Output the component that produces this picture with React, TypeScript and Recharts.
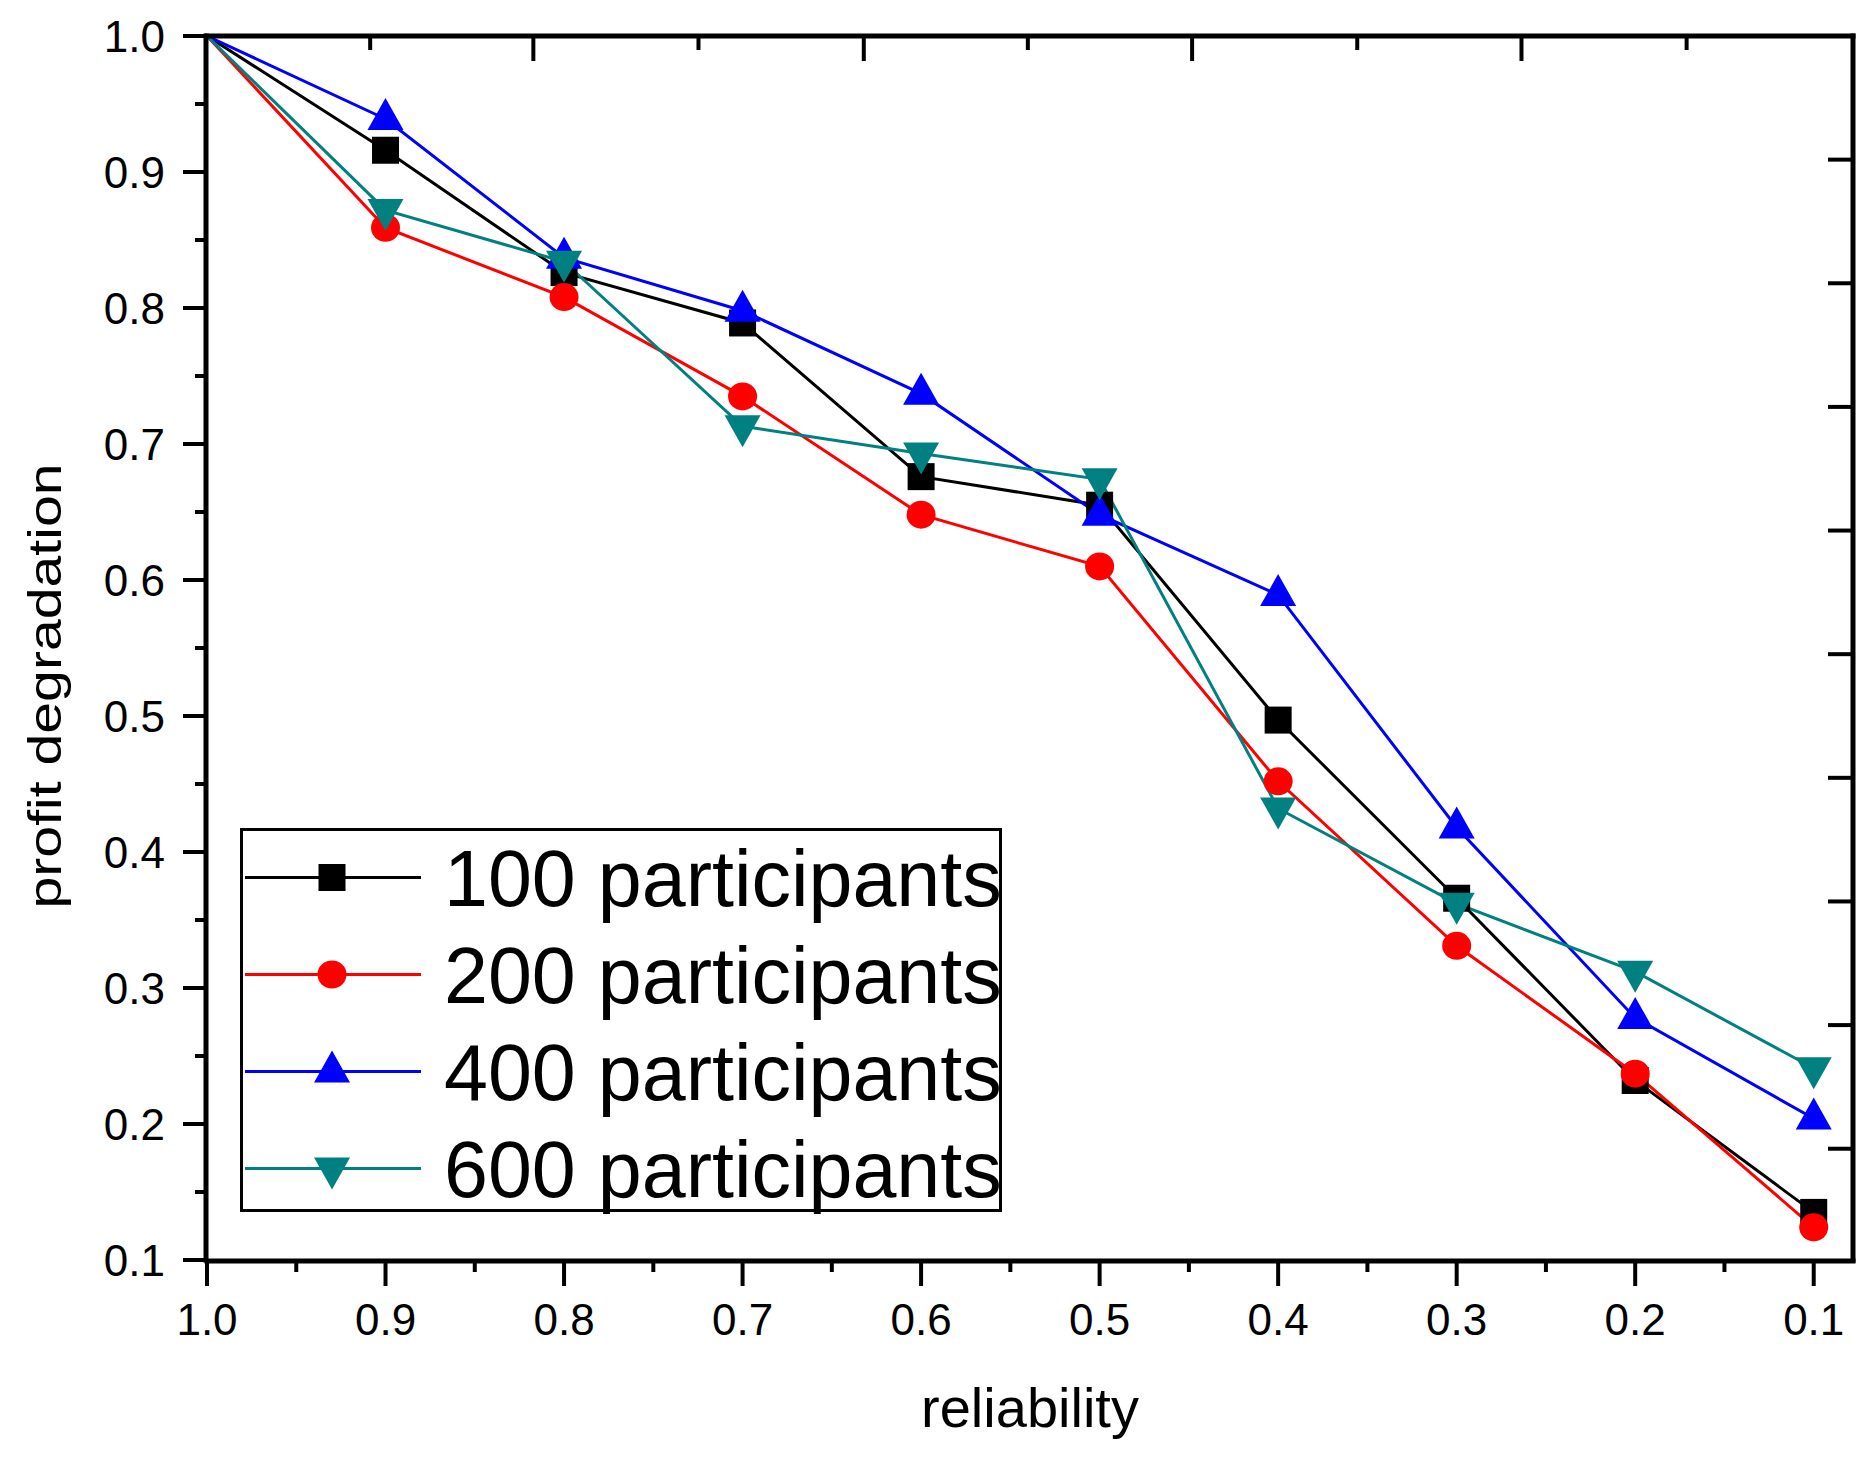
import React from 'react';
import { LineChart, Line, XAxis, YAxis, Legend } from 'recharts';

// ---------- data ----------
const reliability = [1.0, 0.9, 0.8, 0.7, 0.6, 0.5, 0.4, 0.3, 0.2, 0.1];
const p100 = [1.0, 0.916, 0.826, 0.789, 0.676, 0.655, 0.497, 0.366, 0.232, 0.135];
const p200 = [1.0, 0.859, 0.808, 0.735, 0.648, 0.61, 0.452, 0.331, 0.237, 0.124];
const p400 = [1.0, 0.939, 0.837, 0.798, 0.737, 0.648, 0.589, 0.418, 0.278, 0.204];
const p600 = [1.0, 0.872, 0.834, 0.713, 0.693, 0.674, 0.432, 0.362, 0.312, 0.241];

const seriesNames = ['100 participants', '200 participants', '400 participants', '600 participants'];

const xTicks = [1.0, 0.9, 0.8, 0.7, 0.6, 0.5, 0.4, 0.3, 0.2, 0.1];
const xMinorTicks = [0.95, 0.85, 0.75, 0.65, 0.55, 0.45, 0.35, 0.25, 0.15];
const yTicks = [0.1, 0.2, 0.3, 0.4, 0.5, 0.6, 0.7, 0.8, 0.9, 1.0];
const yMinorTicks = [0.15, 0.25, 0.35, 0.45, 0.55, 0.65, 0.75, 0.85, 0.95];
// unlabeled ticks of the top frame (in x-axis units)
const topMinorTicks = [0.9086, 0.7247, 0.5402, 0.3557, 0.1712];
const topMajorTicks = [0.8172, 0.6321, 0.4482, 0.2637];
// unlabeled ticks of the right frame
const rightTicks = [1, 2, 3, 4, 5, 6, 7, 8, 9];

const data = reliability.map((r, i) => ({
  r,
  p100: p100[i],
  p200: p200[i],
  p400: p400[i],
  p600: p600[i],
}));

// ---------- styles ----------
const FONT = '"Liberation Sans", Arial, Helvetica, sans-serif';

type Shape = 'square' | 'circle' | 'up' | 'down';
const SERIES: { key: string; name: string; color: string; shape: Shape }[] = [
  { key: 'p100', name: seriesNames[0], color: '#000000', shape: 'square' },
  { key: 'p200', name: seriesNames[1], color: '#FF0000', shape: 'circle' },
  { key: 'p400', name: seriesNames[2], color: '#0000FF', shape: 'up' },
  { key: 'p600', name: seriesNames[3], color: '#008080', shape: 'down' },
];

function Marker({ shape, cx, cy, color }: { shape: Shape; cx: number; cy: number; color: string }) {
  switch (shape) {
    case 'square':
      return <rect x={cx - 13.5} y={cy - 13.5} width={27} height={27} fill={color} />;
    case 'circle':
      return <ellipse cx={cx} cy={cy} rx={14.5} ry={14} fill={color} />;
    case 'up':
      return <polygon points={`${cx},${cy - 21} ${cx + 18},${cy + 11} ${cx - 18},${cy + 11}`} fill={color} />;
    case 'down':
      return <polygon points={`${cx},${cy + 21} ${cx + 18},${cy - 11} ${cx - 18},${cy - 11}`} fill={color} />;
  }
  return null;
}

const makeDot = (s: { shape: Shape; color: string }) => (props: any) => {
  const { cx, cy, index } = props;
  if (index === 0 || cx == null || cy == null) return <g key={`d-${index}`} />;
  return (
    <g key={`d-${index}`}>
      <Marker shape={s.shape} cx={cx} cy={cy} color={s.color} />
    </g>
  );
};

const EmptyTick = () => <g />;

const renderLegend = (props: any) => {
  const payload = props.payload || [];
  return (
    <div
      style={{
        width: 762,
        height: 384,
        border: '3px solid #000',
        boxSizing: 'border-box',
        background: '#fff',
      }}
    >
      <svg width={756} height={378} style={{ display: 'block', overflow: 'visible' }}>
        {payload.map((entry: any, i: number) => {
          const s = SERIES.find((x) => x.key === entry.dataKey) || SERIES[i];
          const y = 46.5 + i * 97;
          return (
            <g key={s.key}>
              <line x1={2} x2={178} y1={y} y2={y} stroke={s.color} strokeWidth={3} />
              <Marker shape={s.shape} cx={89} cy={y} color={s.color} />
              <text x={201} y={y + 28} fontSize={79} fontFamily={FONT} fill="#000">
                {entry.value}
              </text>
            </g>
          );
        })}
      </svg>
    </div>
  );
};

const XTitle = (props: any) => {
  const vb = props.viewBox || { x: 199, y: 1252, width: 1645, height: 189 };
  return (
    <text
      x={vb.x + vb.width / 2}
      y={vb.y + 166}
      textAnchor="middle"
      fontSize={56}
      fontFamily={FONT}
      fill="#000"
    >
      reliability
    </text>
  );
};

const YTitle = (props: any) => {
  const vb = props.viewBox || { x: 0, y: 30, width: 199, height: 1222 };
  const x = vb.x + 53;
  const y = vb.y + vb.height / 2 + 38;
  return (
    <text
      x={x}
      y={y}
      transform={`rotate(-90, ${x}, ${y})`}
      textAnchor="middle"
      fontSize={47}
      fontFamily={FONT}
      fill="#000"
      textLength={445}
      lengthAdjust="spacingAndGlyphs"
    >
      profit degradation
    </text>
  );
};

const tickFont = { fill: '#000', fontSize: 44, fontFamily: FONT };
const frameLine = { stroke: '#000', strokeWidth: 5, strokeLinecap: 'square' as const };
const tickLineStyle = { stroke: '#000', strokeWidth: 4 };

export default function App() {
  return (
    <div style={{ width: 1856, height: 1441, background: '#fff' }}>
      <LineChart
        width={1856}
        height={1441}
        data={data}
        margin={{ top: 28, right: 11, bottom: 0, left: 0 }}
      >
        {/* thin decorative axes first so they sit on the frame */}
        <XAxis
          xAxisId="bottomMinor"
          type="number"
          dataKey="r"
          domain={[0.078, 1]}
          reversed
          allowDataOverflow
          ticks={xMinorTicks}
          interval={0}
          height={1}
          tick={EmptyTick}
          axisLine={false}
          tickSize={12}
          tickLine={tickLineStyle}
        />
        <XAxis
          xAxisId="main"
          type="number"
          dataKey="r"
          domain={[0.078, 1]}
          reversed
          ticks={xTicks}
          interval={0}
          height={188}
          tickSize={25}
          tickMargin={18}
          tick={tickFont}
          tickFormatter={(v: number) => v.toFixed(1)}
          axisLine={frameLine}
          tickLine={tickLineStyle}
          label={<XTitle />}
        />
        <XAxis
          xAxisId="topMajor"
          orientation="top"
          type="number"
          dataKey="r"
          domain={[0.078, 1]}
          reversed
          allowDataOverflow
          ticks={topMajorTicks}
          interval={0}
          height={1}
          mirror
          tick={EmptyTick}
          tickSize={25}
          axisLine={frameLine}
          tickLine={tickLineStyle}
        />
        <XAxis
          xAxisId="topMinor"
          orientation="top"
          type="number"
          dataKey="r"
          domain={[0.078, 1]}
          reversed
          allowDataOverflow
          ticks={topMinorTicks}
          interval={0}
          height={1}
          mirror
          tick={EmptyTick}
          tickSize={13}
          axisLine={false}
          tickLine={tickLineStyle}
        />
        <YAxis
          yAxisId="leftMinor"
          type="number"
          domain={[0.1, 1]}
          allowDataOverflow
          ticks={yMinorTicks}
          interval={0}
          width={1}
          tick={EmptyTick}
          tickSize={12}
          axisLine={false}
          tickLine={tickLineStyle}
        />
        <YAxis
          yAxisId="main"
          type="number"
          domain={[0.1, 1]}
          ticks={yTicks}
          interval={0}
          width={198}
          tickSize={23}
          tickMargin={18}
          tick={tickFont}
          tickFormatter={(v: number) => v.toFixed(1)}
          axisLine={frameLine}
          tickLine={tickLineStyle}
          label={<YTitle />}
        />
        <YAxis
          yAxisId="right"
          orientation="right"
          type="number"
          domain={[0, 9.9]}
          reversed
          allowDataOverflow
          ticks={rightTicks}
          interval={0}
          width={1}
          mirror
          tick={EmptyTick}
          tickSize={25}
          axisLine={frameLine}
          tickLine={tickLineStyle}
        />
        {SERIES.map((s) => (
          <Line
            key={s.key}
            xAxisId="main"
            yAxisId="main"
            type="linear"
            dataKey={s.key}
            name={s.name}
            stroke={s.color}
            strokeWidth={3}
            dot={makeDot(s)}
            activeDot={false}
            isAnimationActive={false}
          />
        ))}
        <Legend
          layout="horizontal"
          verticalAlign="middle"
          align="center"
          content={renderLegend}
          wrapperStyle={{ left: 232, top: 820, width: 762, height: 384 }}
        />
      </LineChart>
    </div>
  );
}
